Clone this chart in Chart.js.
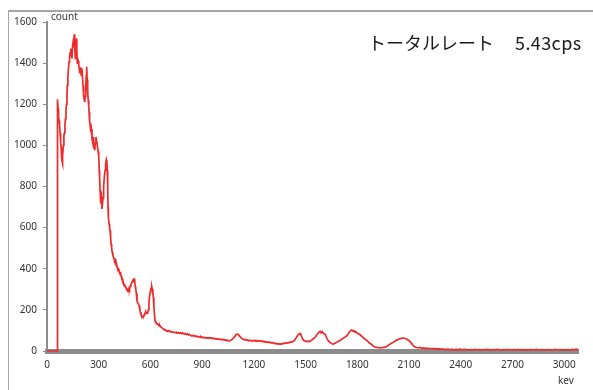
<!DOCTYPE html>
<html><head><meta charset="utf-8">
<script src="https://cdn.jsdelivr.net/npm/chart.js@4"></script>
<style>
html,body{margin:0;padding:0;background:#fff;}
#wrap{position:relative;width:593px;height:390px;overflow:hidden;}
#frame{position:absolute;left:8px;top:10px;width:700px;height:500px;border-left:1px solid #a6a6a6;border-top:2px solid #a6a6a6;}
canvas{position:absolute;left:0;top:0;}
.lbl{position:absolute;font-family:'Noto Sans',sans-serif;font-size:10px;color:#333;white-space:nowrap;line-height:10px;}
.ttl{position:absolute;font-family:'Noto Sans CJK JP',sans-serif;font-size:18px;color:#1a1a1a;white-space:nowrap;line-height:18px;}
</style></head>
<body>
<div id="wrap">
<div id="frame"></div>
<canvas id="c" width="593" height="390"></canvas>
<div class="lbl" style="left:51px;top:11px;">count</div>
<div class="lbl" style="left:558px;top:375px;">kev</div>
<div class="ttl" style="left:368px;top:33px;">トータルレート</div>
<div class="ttl" style="left:515px;top:33px;letter-spacing:0.4px;">5.43cps</div>
</div>
<script>
// energy axis (keV)
const energyKeV = [
0,59,61,64,67,70,73,76,79,82,
85,88,89,92,95,98,101,104,107,110,
113,116,118,121,124,128,131,134,138,141,
145,148,151,153,156,158,161,164,167,170,
173,176,178,181,184,187,190,193,196,199,
203,206,209,211,214,217,219,222,224,226,
228,230,233,236,239,242,244,247,250,254,
257,261,264,267,269,272,275,277,280,284,
288,292,296,300,303,305,308,310,313,316,
319,322,325,327,330,333,337,340,344,347,
350,352,354,356,360,363,366,369,372,375,
378,382,385,389,392,396,399,403,406,410,
413,417,421,424,428,431,433,437,440,443,
447,450,454,457,461,464,468,472,476,479,
483,487,491,494,498,502,505,509,512,514,
518,522,526,530,534,538,541,545,549,552,
556,559,563,566,570,573,577,580,584,588,
591,594,598,601,605,608,611,614,617,620,
623,627,631,634,638,642,646,650,654,658,
662,666,670,674,678,682,686,690,695,700,
706,712,718,724,730,736,743,749,755,761,
767,773,779,785,791,797,803,809,815,821,
827,833,840,846,852,858,864,870,876,882,
888,893,898,904,910,916,922,928,934,940,
946,952,958,964,970,976,982,988,994,1000,
1006,1012,1018,1024,1030,1036,1042,1048,1054,1060,
1066,1072,1078,1084,1090,1096,1102,1108,1114,1120,
1126,1132,1139,1145,1151,1157,1163,1169,1175,1181,
1187,1193,1199,1205,1211,1217,1223,1229,1235,1241,
1247,1253,1259,1265,1271,1277,1283,1289,1295,1301,
1307,1313,1319,1325,1331,1337,1343,1349,1355,1361,
1367,1373,1379,1385,1391,1397,1403,1409,1415,1421,
1427,1433,1439,1445,1451,1457,1463,1468,1473,1478,
1483,1488,1494,1500,1506,1512,1518,1524,1530,1536,
1542,1548,1554,1560,1566,1572,1578,1584,1590,1596,
1602,1608,1614,1620,1626,1632,1638,1644,1650,1656,
1661,1667,1673,1679,1685,1691,1697,1703,1709,1715,
1721,1727,1733,1739,1745,1751,1757,1763,1768,1774,
1780,1786,1791,1797,1803,1809,1815,1821,1827,1833,
1839,1845,1851,1857,1863,1869,1875,1881,1887,1893,
1899,1905,1911,1917,1923,1929,1935,1941,1947,1953,
1959,1965,1971,1977,1983,1989,1995,2001,2007,2013,
2019,2025,2031,2037,2043,2049,2055,2061,2067,2073,
2079,2085,2091,2097,2103,2109,2115,2121,2127,2133,
2139,2145,2151,2157,2163,2169,2175,2181,2187,2193,
2199,2205,2211,2217,2223,2229,2235,2241,2247,2253,
2259,2265,2271,2277,2283,2289,2295,2301,2313,2325,
2337,2349,2361,2373,2385,2397,2409,2421,2433,2445,
2457,2469,2481,2493,2505,2517,2529,2541,2553,2565,
2577,2589,2601,2613,2625,2637,2649,2661,2673,2685,
2697,2709,2721,2733,2745,2757,2769,2781,2793,2805,
2817,2829,2841,2853,2865,2877,2889,2901,2913,2925,
2937,2949,2961,2973,2985,2997,3009,3021,3033,3045,
3057,3069,3080
];
// counts per channel
const counts = [
0,0,1224,1180,1140,1120,1098,1060,1016,990,
940,920,911,950,1000,1049,1060,1098,1130,1171,
1200,1250,1293,1330,1370,1406,1430,1450,1471,1440,
1423,1480,1500,1520,1490,1540,1480,1423,1470,1520,
1460,1400,1423,1410,1390,1374,1350,1380,1358,1340,
1374,1330,1290,1260,1240,1220,1211,1240,1270,1293,
1340,1382,1320,1260,1220,1190,1163,1120,1100,1065,
1080,1033,1020,1040,1000,990,985,976,1010,1041,
1020,1000,970,951,880,845,780,732,717,740,
691,720,745,764,800,850,878,910,930,920,
878,800,700,650,620,600,585,550,520,504,
480,470,455,450,440,445,439,420,410,398,
400,390,385,382,370,365,358,350,340,333,
325,320,315,309,305,300,298,293,305,300,
315,325,330,338,345,348,350,330,315,309,
280,244,235,230,220,205,190,179,170,168,
165,163,175,180,187,190,183,186,185,200,
230,260,285,300,308,312,300,280,260,220,
180,146,140,136,133,130,128,122,125,118,
116,114,110,108,106,102,103,100,98,96,
99,94,96,91,93,90,89,92,87,90,
86,89,84,88,85,82,85,80,83,78,
80,76,73,76,72,74,70,72,68,70,
67,69,65,67,64,66,63,65,62,64,
65,61,63,60,62,58,60,57,59,57,
55,57,54,56,52,54,51,53,49,50,
52,55,60,66,72,78,82,81,76,70,
64,60,57,54,56,52,54,50,52,49,
51,48,50,52,48,51,47,49,50,47,
49,45,47,43,45,42,44,41,43,39,
41,37,39,35,37,34,36,33,35,34,
37,36,39,37,40,39,42,41,44,43,
47,50,56,64,72,80,84,85,78,68,
58,52,50,47,48,46,48,46,50,53,
57,62,66,72,80,86,92,95,88,94,
86,84,80,68,58,49,44,40,37,34,
33,36,39,42,45,47,50,53,57,60,
64,67,70,74,80,88,96,100,102,96,
99,92,94,89,86,82,80,75,70,66,
60,57,54,50,45,40,36,33,28,24,
21,19,18,17,16,17,16,15,17,18,
19,20,22,26,30,33,36,39,42,45,
48,52,54,56,58,60,61,62,63,62,
61,58,55,52,48,42,36,30,25,21,
18,17,16,15,17,15,14,13,15,13,
12,14,12,13,11,12,10,12,10,11,
9,11,9,10,8,10,8,9,7,9,
7,8,6,8,7,9,6,8,7,5,
7,6,8,6,7,5,7,6,8,7,
5,7,6,8,6,5,7,6,8,6,
5,7,6,8,5,7,6,4,6,7,
5,6,8,5,7,6,4,6,7,5,
6,8,5,7,6,4,6,7,5,8,
6,9,7
];
const yTicks = [0, 200, 400, 600, 800, 1000, 1200, 1400, 1600];
const xTicks = [0, 300, 600, 900, 1200, 1500, 1800, 2100, 2400, 2700, 3000];
const yMax = 1600;
const xMax = 3080;

const points = energyKeV.map((e, i) => ({x: e, y: counts[i]}));
const tickFont = {family: "'Noto Sans', sans-serif", size: 10};

new Chart(document.getElementById('c'), {
  type: 'line',
  data: {datasets: [{
    data: points,
    borderColor: '#ee2a2a',
    borderWidth: 1.7,
    pointRadius: 0,
    tension: 0,
    fill: false,
    clip: 4
  }]},
  options: {
    responsive: false,
    animation: false,
    parsing: false,
    normalized: true,
    layout: {padding: {top: 22, right: 15, left: 0, bottom: 0}},
    plugins: {legend: {display: false}, tooltip: {enabled: false}, title: {display: false}},
    scales: {
      x: {
        type: 'linear', min: 0, max: xMax,
        afterBuildTicks(s) { s.ticks = xTicks.map(v => ({value: v})); },
        ticks: {color: '#333', font: tickFont, padding: 8, maxRotation: 0, autoSkip: false,
                callback: v => String(v)},
        grid: {display: false, drawTicks: false},
        border: {display: true, color: '#8c8c8c', width: 5},
        afterFit(s) { s.height = 39; }
      },
      y: {
        type: 'linear', min: 0, max: yMax,
        afterBuildTicks(s) { s.ticks = yTicks.map(v => ({value: v})); },
        ticks: {color: '#333', font: tickFont, padding: 6, autoSkip: false,
                callback: v => String(v)},
        grid: {drawOnChartArea: false, drawTicks: true, tickLength: 4, color: '#8c8c8c'},
        border: {display: true, color: '#8c8c8c', width: 2},
        afterFit(s) { s.width = 47; }
      }
    }
  }
});
</script>
</body></html>
